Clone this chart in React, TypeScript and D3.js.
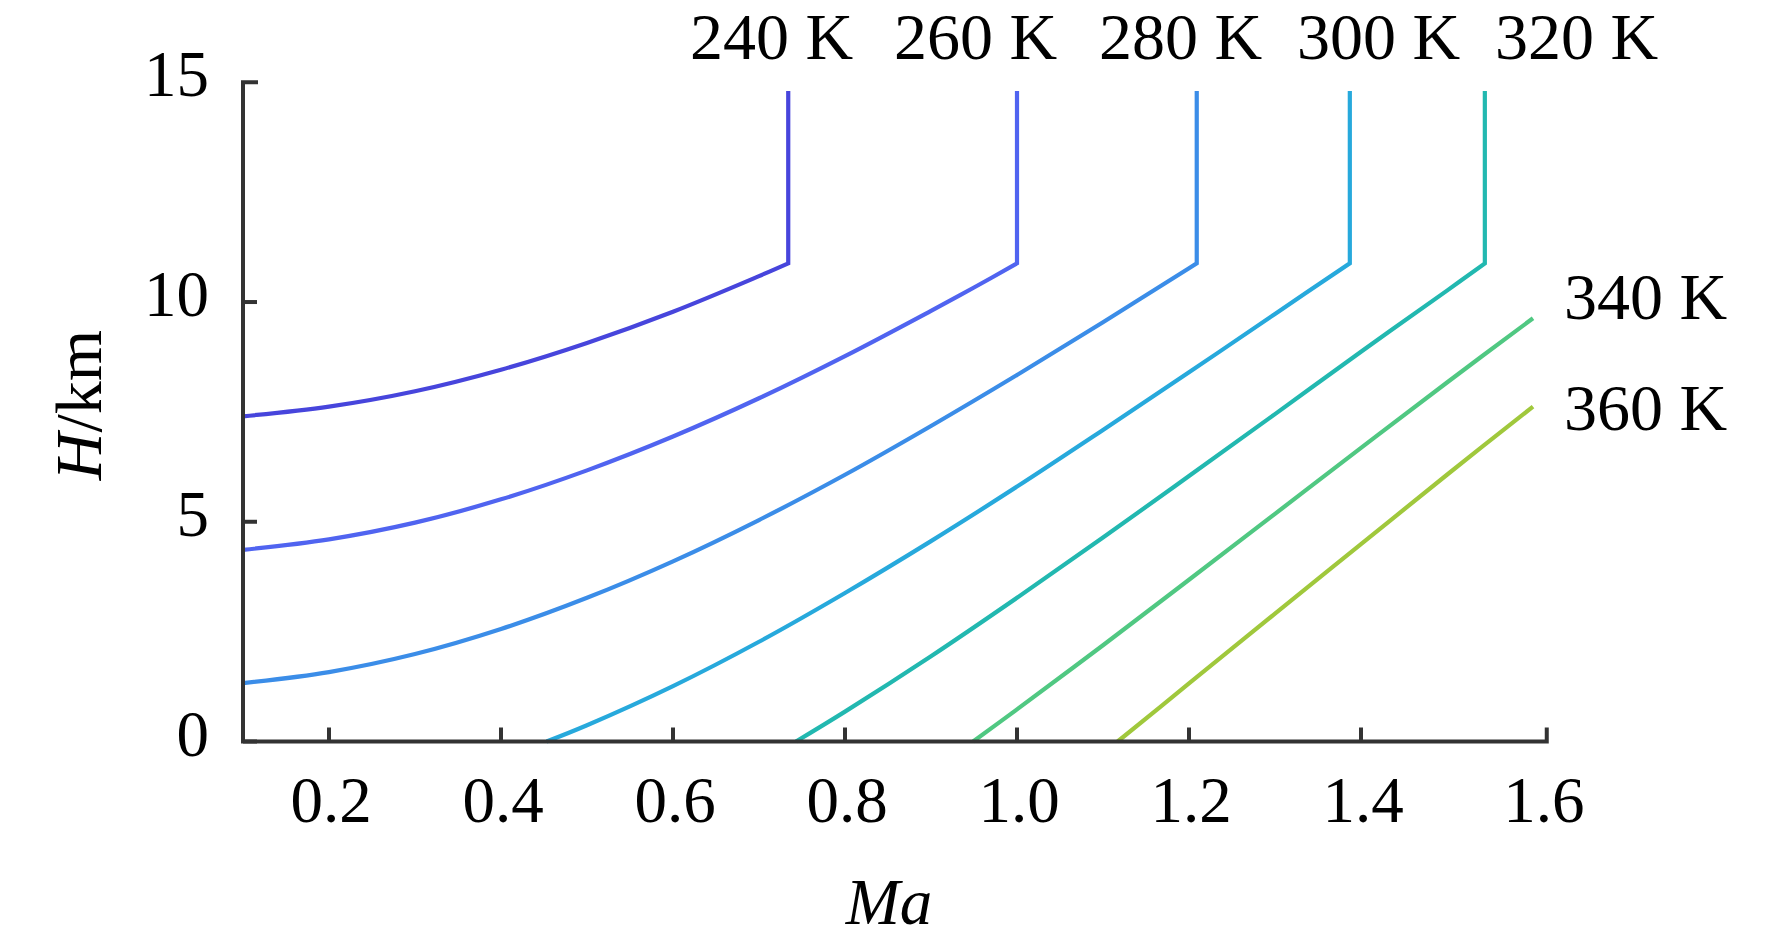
import React from 'react';
import * as d3 from 'd3';

// ---- data ----
const seriesLabels = ['240 K', '260 K', '280 K', '300 K', '320 K', '340 K', '360 K'];
const seriesColors = ['#4745dc', '#5064f0', '#3b8de8', '#27a9dc', '#22b8b0', '#50c882', '#a0c83c'];

const ma240 = [0.1, 0.2, 0.3, 0.4, 0.5, 0.6, 0.7, 0.734, 0.734];
const h240 = [7.4, 7.62, 7.97, 8.46, 9.07, 9.78, 10.59, 10.88, 14.8];

const ma260 = [0.1, 0.2, 0.3, 0.4, 0.5, 0.6, 0.7, 0.8, 0.9, 0.95, 1.0, 1.0];
const h260 = [4.36, 4.6, 4.98, 5.51, 6.17, 6.94, 7.81, 8.77, 9.8, 10.33, 10.88, 14.8];

const ma280 = [0.1, 0.2, 0.3, 0.4, 0.5, 0.6, 0.7, 0.8, 0.9, 1.0, 1.1, 1.2, 1.209, 1.209];
const h280 = [1.33, 1.58, 1.99, 2.56, 3.27, 4.1, 5.04, 6.07, 7.18, 8.34, 9.54, 10.77, 10.88, 14.8];

const ma300 = [0.453, 0.5, 0.6, 0.7, 0.8, 0.9, 1.0, 1.1, 1.2, 1.3, 1.387, 1.387];
const h300 = [0, 0.37, 1.26, 2.27, 3.38, 4.56, 5.8, 7.09, 8.4, 9.73, 10.88, 14.8];

const ma320 = [0.743, 0.8, 0.9, 1.0, 1.1, 1.2, 1.3, 1.4, 1.5, 1.544, 1.544];
const h320 = [0, 0.68, 1.94, 3.27, 4.64, 6.04, 7.45, 8.87, 10.26, 10.88, 14.8];

const ma340 = [0.949, 1.0, 1.1, 1.2, 1.3, 1.4, 1.5, 1.6];
const h340 = [0, 0.73, 2.19, 3.68, 5.18, 6.68, 8.17, 9.63];

const ma360 = [1.117, 1.2, 1.3, 1.4, 1.5, 1.6];
const h360 = [0, 1.32, 2.91, 4.49, 6.07, 7.62];

const xTicks = [0.2, 0.4, 0.6, 0.8, 1.0, 1.2, 1.4, 1.6];
const yTicks = [0, 5, 10, 15];
const xAxisMax = 1.616;

const seriesMa = [ma240, ma260, ma280, ma300, ma320, ma340, ma360];
const seriesH = [h240, h260, h280, h300, h320, h340, h360];

export default function App() {
  const W = 1772;
  const H = 946;
  const x = d3.scaleLinear().domain([0.1, 1.6]).range([243, 1533]);
  const y = d3.scaleLinear().domain([0, 15]).range([741.5, 82.3]);
  const font = '"Liberation Serif", "Times New Roman", serif';
  const axisColor = '#333333';

  const curveLine = d3
    .line<[number, number]>()
    .x((d) => x(d[0]))
    .y((d) => y(d[1]))
    .curve(d3.curveCatmullRom.alpha(0.5));

  const paths = seriesMa.map((ma, s) => {
    const hs = seriesH[s];
    const pts: [number, number][] = ma.map((m, i) => [m, hs[i]]);
    let k = -1;
    for (let i = 1; i < pts.length; i++) if (pts[i][0] === pts[i - 1][0]) k = i;
    if (k < 0) return curveLine(pts) || '';
    const curved = pts.slice(0, k);
    return (curveLine(curved) || '') + `L${x(pts[k][0])},${y(pts[k][1])}`;
  });

  // label layout (pixel positions of the reference's annotation text)
  const labelPos: Record<string, [number, number]> = {
    '240 K': [690, 59],
    '260 K': [894, 59],
    '280 K': [1099, 59],
    '300 K': [1297, 59],
    '320 K': [1495, 59],
    '340 K': [1564, 319],
    '360 K': [1564, 430],
  };

  const x0 = x(0.1);
  const xEnd = x(xAxisMax);
  const yBottom = y(0);
  const yTop = y(15);
  const tickLen = 14;
  const lastTick = xTicks[xTicks.length - 1];

  return (
    <svg
      width={W}
      height={H}
      viewBox={`0 0 ${W} ${H}`}
      style={{ position: 'absolute', left: 0, top: 0, display: 'block', background: '#fff' }}
    >
      <rect x={0} y={0} width={W} height={H} fill="#ffffff" />
      {/* curves */}
      <g fill="none" strokeWidth={4.2} strokeLinejoin="miter" strokeLinecap="butt">
        {paths.map((d, i) => (
          <path key={i} d={d} stroke={seriesColors[i]} />
        ))}
      </g>
      {/* axes */}
      <g stroke={axisColor} strokeWidth={4} fill="none">
        <path d={`M${x0 + 15},${yTop}H${x0}V${yBottom}H${xEnd}V${yBottom - tickLen}`} strokeLinejoin="miter" />
        {yTicks.slice(0, -1).map((t) => (
          <line key={'yt' + t} x1={x0} x2={x0 + tickLen} y1={y(t)} y2={y(t)} />
        ))}
        {xTicks
          .filter((t) => t !== lastTick)
          .map((t) => (
            <line key={'xt' + t} x1={x(t)} x2={x(t)} y1={yBottom} y2={yBottom - tickLen} />
          ))}
      </g>
      {/* tick labels */}
      <g fontFamily={font} fontSize={65} fill="#000">
        {yTicks.map((t) => (
          <text key={'yl' + t} x={209} y={y(t) + 14} textAnchor="end">
            {d3.format('d')(t)}
          </text>
        ))}
        {xTicks.map((t) => (
          <text key={'xl' + t} x={t === lastTick ? xEnd - 3 : x(t) + 2} y={822} textAnchor="middle">
            {d3.format('.1f')(t)}
          </text>
        ))}
      </g>
      {/* series labels */}
      <g fontFamily={font} fontSize={66} fill="#000">
        {seriesLabels.map((l) => (
          <text key={l} x={labelPos[l][0]} y={labelPos[l][1]}>
            {l}
          </text>
        ))}
      </g>
      {/* axis titles */}
      <text x={889} y={924} fontFamily={font} fontSize={65} fontStyle="italic" textAnchor="middle">
        Ma
      </text>
      <text
        transform="translate(101,405) rotate(-90)"
        fontFamily={font}
        fontSize={66}
        textAnchor="middle"
      >
        <tspan fontStyle="italic">H</tspan>
        <tspan>/km</tspan>
      </text>
    </svg>
  );
}
